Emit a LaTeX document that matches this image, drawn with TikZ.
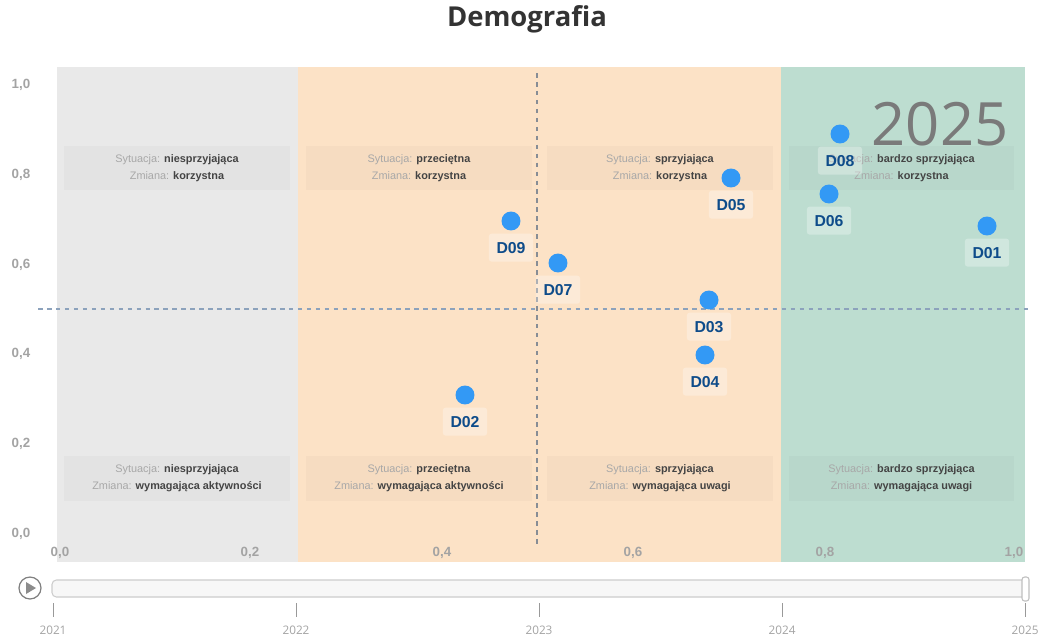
\documentclass[tikz,border=0pt]{standalone}
\usepackage{fontspec}
\setmainfont{Liberation Sans}
\newfontfamily\opensans{Open Sans}
\usepackage{tikz}
\usetikzlibrary{positioning}
\definecolor{bandGray}{HTML}{E9E9E9}
\definecolor{bandOrange}{HTML}{FCE2C6}
\definecolor{bandGreen}{HTML}{BDDDD0}
\definecolor{demoBlue}{HTML}{3399F5}
\definecolor{demoDark}{HTML}{0E4C8A}
\definecolor{keyGray}{HTML}{A8A8A8}
\definecolor{valDark}{HTML}{444444}
\definecolor{axisGray}{HTML}{A3A3A3}
\definecolor{hLine}{HTML}{8CA2BC}
\definecolor{vLine}{HTML}{878D95}
\newcommand{\sitkey}[1]{\textcolor{keyGray}{#1}}

\begin{document}
\begin{tikzpicture}[x=0.02cm, y=-0.02cm,
  quad/.style={fill=black, fill opacity=0.025, text opacity=1, align=center,
    minimum width=4.52cm, minimum height=0.9cm, inner sep=0pt,
    font=\fontsize{6.2}{9.6}\selectfont, text=valDark},
  pt/.style={circle, fill=demoBlue, minimum size=10.8pt, inner sep=0pt},
  ptlab/.style={fill=white, fill opacity=0.3, text opacity=1, rounded corners=1.5pt,
    minimum height=15.9pt, inner xsep=4.3pt, text=demoDark,
    font=\fontsize{9}{10}\selectfont\bfseries, below=1.4pt of #1},
  ylab/.style={font=\fontsize{7.6}{8}\selectfont\bfseries, text=axisGray},
  yearlab/.style={font=\opensans\fontsize{6.7}{8}\selectfont, text=axisGray}
]
  \useasboundingbox (0,0) rectangle (1043,639);
  % bands
  \fill[bandGray] (57,67) rectangle (298,562);
  \fill[bandOrange] (298,67) rectangle (781,562);
  \fill[bandGreen] (781,67) rectangle (1025,562);
  \node[font=\opensans\fontsize{15.6}{17}\selectfont\bfseries, text=black!80] (title) at (527,19) {Demografia};
  % quadrant descriptions
  \node[quad] (q1) at (177,168) {\sitkey{Sytuacja:} \textbf{niesprzyjająca}\\\sitkey{Zmiana:} \textbf{korzystna}};
  \node[quad] (q2) at (419,168) {\sitkey{Sytuacja:} \textbf{przeciętna}\\\sitkey{Zmiana:} \textbf{korzystna}};
  \node[quad] (q3) at (660,168) {\sitkey{Sytuacja:} \textbf{sprzyjająca}\\\sitkey{Zmiana:} \textbf{korzystna}};
  \node[quad] (q4) at (901.5,168) {\sitkey{Sytuacja:} \textbf{bardzo sprzyjająca}\\\sitkey{Zmiana:} \textbf{korzystna}};
  \node[quad] (q5) at (177,478.5) {\sitkey{Sytuacja:} \textbf{niesprzyjająca}\\\sitkey{Zmiana:} \textbf{wymagająca aktywności}};
  \node[quad] (q6) at (419,478.5) {\sitkey{Sytuacja:} \textbf{przeciętna}\\\sitkey{Zmiana:} \textbf{wymagająca aktywności}};
  \node[quad] (q7) at (660,478.5) {\sitkey{Sytuacja:} \textbf{sprzyjająca}\\\sitkey{Zmiana:} \textbf{wymagająca uwagi}};
  \node[quad] (q8) at (901.5,478.5) {\sitkey{Sytuacja:} \textbf{bardzo sprzyjająca}\\\sitkey{Zmiana:} \textbf{wymagająca uwagi}};
  % axes
  \node[ylab] (y10) at (21,85) {1,0};
  \node[ylab] (y08) at (21,175) {0,8};
  \node[ylab] (y06) at (21,265) {0,6};
  \node[ylab] (y04) at (21,354) {0,4};
  \node[ylab] (y02) at (21,444) {0,2};
  \node[ylab] (y00) at (21,534) {0,0};
  \node[ylab] (x00) at (60,553) {0,0};
  \node[ylab] (x02) at (250,553) {0,2};
  \node[ylab] (x04) at (442,553) {0,4};
  \node[ylab] (x06) at (633,553) {0,6};
  \node[ylab] (x08) at (825,553) {0,8};
  \node[ylab] (x10) at (1014,553) {1,0};
  % midlines
  \coordinate (hl) at (38,309);
  \coordinate (hr) at (1032,309);
  \coordinate (vt) at (537,73);
  \coordinate (vb) at (537,545);
  \draw[hLine, line width=1.1pt, dash pattern=on 2.6pt off 2.5pt] (hl) -- (hr);
  \draw[vLine, line width=1.1pt, dash pattern=on 2.6pt off 2.5pt] (vt) -- (vb);
  \node[font=\opensans\fontsize{34}{38}\selectfont, text=black!52] (year) at (940,124) {2025};
  % districts
  \node[pt] (d01) at (987,226) {};
  \node[ptlab=d01] (l01) {D01};
  \node[pt] (d02) at (465,395) {};
  \node[ptlab=d02] (l02) {D02};
  \node[pt] (d03) at (709,300) {};
  \node[ptlab=d03] (l03) {D03};
  \node[pt] (d04) at (705,355) {};
  \node[ptlab=d04] (l04) {D04};
  \node[pt] (d05) at (731,178) {};
  \node[ptlab=d05] (l05) {D05};
  \node[pt] (d06) at (829,194) {};
  \node[ptlab=d06] (l06) {D06};
  \node[pt] (d07) at (558,263) {};
  \node[ptlab=d07] (l07) {D07};
  \node[pt] (d08) at (840,134) {};
  \node[ptlab=d08] (l08) {D08};
  \node[pt] (d09) at (511,221) {};
  \node[ptlab=d09] (l09) {D09};
  % slider
  \node[circle, draw=black!50, line width=0.7pt, minimum size=12.5pt, inner sep=0pt] (play) at (30,588) {};
  \fill[black!45] (26,582) -- (36,588) -- (26,594) -- cycle;
  \draw[black!20, fill=black!3, rounded corners=2.5pt, line width=0.6pt] (52,580) rectangle (1027,597);
  \draw[black!25, fill=white, rounded corners=1.5pt, line width=0.6pt] (1022,577) rectangle (1029,601);
  \draw[black!40, line width=0.5pt] (53,603) -- (53,617) (296,603) -- (296,617) (539,603) -- (539,617) (782,603) -- (782,617) (1025,603) -- (1025,617);
  \node[yearlab] (t21) at (53,630) {2021};
  \node[yearlab] (t22) at (296,630) {2022};
  \node[yearlab] (t23) at (539,630) {2023};
  \node[yearlab] (t24) at (782,630) {2024};
  \node[yearlab] (t25) at (1025,630) {2025};
\end{tikzpicture}
\end{document}
